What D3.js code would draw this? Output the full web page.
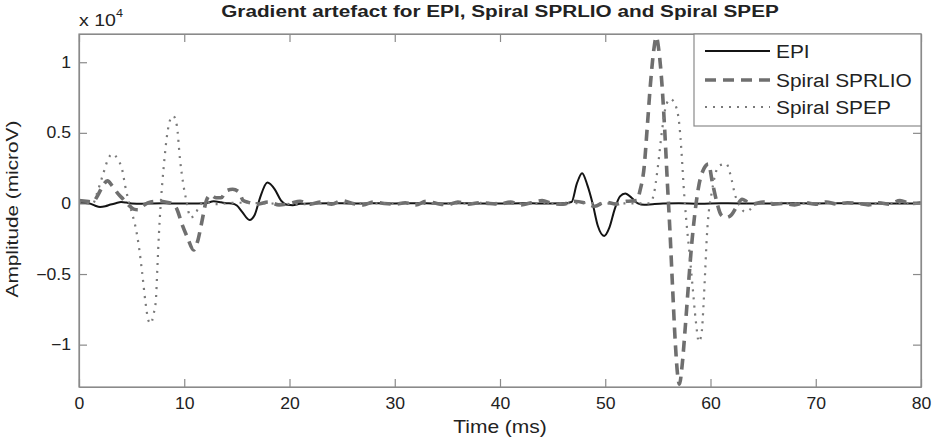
<!DOCTYPE html>
<meta charset="utf-8">
<style>
    body { margin: 0; background: #fff; }
    svg { font-family: "Liberation Sans", Arial, Helvetica, sans-serif; }
    .axis path, .axis line { stroke: #8a8a8a; stroke-width: 1.2; }
    .axis text { fill: #222; font-size: 16px; }
</style>
<body>
<script src="https://cdn.jsdelivr.net/npm/d3@7"></script>
<script>
// time (ms) / amplitude (microV)
var epiT = [0, 1, 1.5, 2, 2.5, 3, 3.5, 4, 4.5, 5, 6, 7, 8, 9, 10, 11, 12, 12.8, 13.5, 14, 14.5, 15, 15.5, 16.2, 16.7, 17.2, 17.9, 18.6, 19.2, 19.8, 20.3, 21, 22, 24, 26, 28, 30, 32, 34, 36, 38, 40, 42, 44, 46, 46.8, 47.3, 47.8, 48.3, 48.8, 49.3, 49.9, 50.4, 50.9, 51.4, 51.9, 52.5, 53.1, 53.7, 54.5, 55.5, 57, 59, 61, 63, 65, 67, 70, 73, 76, 80];
var epiV = [50, 0, -150, -250, -200, -80, 20, 100, 60, 0, -20, 0, 10, 0, -10, 0, 10, 150, 80, 20, 0, -150, -600, -1170, -800, 400, 1480, 1000, 200, -100, -120, -30, 0, 20, -10, 10, 0, 20, -10, 10, 0, -10, 10, 0, 10, 100, 1400, 2140, 1300, 0, -1600, -2300, -1700, -400, 500, 700, 400, 0, -100, -50, 0, 20, -20, 10, 0, -10, 10, 0, 10, -10, 0];

var sprT = [0, 0.7, 1.3, 1.8, 2.3, 2.7, 3.2, 3.7, 4.2, 4.7, 5.2, 5.6, 6.2, 6.8, 7.5, 8.2, 8.8, 9.3, 9.8, 10.3, 10.9, 11.3, 11.7, 12.1, 12.5, 13, 13.5, 14, 14.6, 15.2, 15.6, 16, 17, 18, 19, 20, 21, 22, 23, 24, 25, 26, 27, 28, 29, 30, 31, 32, 33, 34, 35, 36, 37, 38, 39, 40, 41, 42, 43, 44, 45, 46, 47, 48, 49, 50, 51, 52, 53, 53.3, 53.7, 54, 54.3, 54.6, 54.85, 55.1, 55.4, 55.65, 55.9, 56.15, 56.4, 56.65, 56.9, 57.05, 57.3, 57.6, 57.9, 58.2, 58.5, 58.9, 59.4, 59.8, 60.2, 60.6, 61, 61.5, 62, 62.5, 63, 63.5, 64, 65, 66, 67, 68, 69, 70, 71, 72, 73, 74, 75, 76, 77, 78, 79, 80];
var sprV = [200, 150, 100, 600, 1300, 1600, 1200, 700, 300, -100, -400, -450, -100, 100, 150, 100, 0, -400, -1500, -2400, -3300, -2600, -1200, 200, 600, 400, 400, 900, 1000, 800, 200, 100, -50, 100, -100, 0, 150, -50, 100, -50, 200, 0, -100, 100, 0, -50, 50, -100, 150, 0, -100, 100, -50, 50, 0, -50, 100, -100, 50, 200, 0, -50, 150, 50, -200, 100, -50, 150, 200, 900, 2600, 5500, 8500, 10800, 11800, 10800, 8300, 5200, 1500, -2000, -6000, -9800, -12300, -12800, -11500, -8800, -5800, -3000, -800, 1300, 2500, 2800, 1400, 100, -800, -1000, -800, -200, 300, 100, -50, 100, -50, 0, -100, 50, -50, 100, -50, 50, 0, -100, 50, -50, 200, 0, 50];

var spepT = [0, 0.8, 1.3, 1.7, 2.3, 2.8, 3.2, 3.7, 4.1, 4.4, 4.7, 5, 5.35, 5.7, 6, 6.3, 6.6, 6.8, 7.1, 7.3, 7.45, 7.6, 7.75, 8.05, 8.4, 8.7, 8.95, 9.3, 9.6, 9.9, 10.2, 10.6, 11, 11.5, 12, 13, 15, 18, 21, 24, 27, 30, 33, 36, 39, 42, 45, 48, 51, 54.2, 54.6, 55, 55.4, 55.8, 56.2, 56.7, 57.05, 57.25, 57.45, 57.7, 58, 58.3, 58.6, 58.9, 59.15, 59.35, 59.5, 59.65, 59.85, 60.1, 60.5, 60.9, 61.5, 62, 62.3, 62.8, 63.3, 63.8, 64.3, 65, 68, 71, 74, 77, 80];
var spepV = [100, 0, -50, 700, 2100, 3200, 3500, 3100, 2400, 1200, 200, -600, -1600, -3100, -4900, -6900, -8300, -8500, -7800, -6900, -4500, -2100, -200, 2600, 5000, 6000, 6200, 5500, 3100, 1400, 200, -1000, -800, -100, 100, -50, 50, 0, -50, 50, 0, 30, -30, 0, 40, -20, 0, 30, 0, 0, 600, 2600, 5200, 7000, 7400, 6900, 5500, 3600, 1200, -1200, -3500, -5900, -8300, -9800, -9200, -7000, -4700, -2400, -500, 700, 2200, 2700, 2800, 1700, 700, -200, -600, -400, 0, 50, 0, 30, -20, 0, 0];

var seriesNames = ["EPI", "Spiral SPRLIO", "Spiral SPEP"];
var xTicks = [0, 10, 20, 30, 40, 50, 60, 70, 80];
var yTicks = [-10000, -5000, 0, 5000, 10000];

var W = 932, H = 444,
    margin = {top: 34, right: 11, bottom: 57, left: 79},
    width = W - margin.left - margin.right,
    height = H - margin.top - margin.bottom;

var svg = d3.select("body").append("svg")
    .attr("width", W)
    .attr("height", H);

var g = svg.append("g")
    .attr("transform", "translate(" + margin.left + "," + margin.top + ")");

var x = d3.scaleLinear().domain([0, 80]).range([0, width]);
var y = d3.scaleLinear().domain([-13000, 12000]).range([height, 0]);

var fmtY = function(v) { return v === 0 ? "0" : d3.format("")(v / 1e4).replace("-", "\u2212"); };

g.append("clipPath").attr("id", "clip")
    .append("rect").attr("width", width).attr("height", height);

var line = d3.line()
    .x(function(d) { return x(d[0]); })
    .y(function(d) { return y(d[1]); })
    .curve(d3.curveMonotoneX);

var styles = [
    {stroke: "#141414", width: 2, dash: null},
    {stroke: "#6f6f6f", width: 3.6, dash: "11,7"},
    {stroke: "#7a7a7a", width: 2.2, dash: "2,6"}
];

var series = [d3.zip(epiT, epiV), d3.zip(sprT, sprV), d3.zip(spepT, spepV)];

var plot = g.append("g").attr("clip-path", "url(#clip)");
series.forEach(function(s, i) {
    plot.append("path")
        .datum(s)
        .attr("fill", "none")
        .attr("stroke", styles[i].stroke)
        .attr("stroke-width", styles[i].width)
        .attr("stroke-dasharray", styles[i].dash)
        .attr("d", line);
});

// axes, MATLAB style: inward ticks on all four sides
var tick = 8;
var xb = g.append("g").attr("class", "axis")
    .attr("transform", "translate(0," + height + ")")
    .call(d3.axisBottom(x).tickValues(xTicks).tickSizeInner(-tick).tickSizeOuter(0).tickPadding(11));
var xt = g.append("g").attr("class", "axis")
    .call(d3.axisTop(x).tickValues(xTicks).tickSizeInner(-tick).tickSizeOuter(0).tickFormat(""));
var yl = g.append("g").attr("class", "axis")
    .call(d3.axisLeft(y).tickValues(yTicks).tickSizeInner(-tick).tickSizeOuter(0).tickPadding(16).tickFormat(fmtY));
var yr = g.append("g").attr("class", "axis")
    .attr("transform", "translate(" + width + ",0)")
    .call(d3.axisRight(y).tickValues(yTicks).tickSizeInner(-tick).tickSizeOuter(0).tickFormat(""));

// the picture's text is a bit wide, stretch it
xb.selectAll("text").attr("transform", "scale(1.1,1)")
    .attr("x", 0);
yl.selectAll("text").attr("transform", "scale(1.1,1)")
    .attr("x", -8 / 1.1);

g.append("rect")
    .attr("width", width).attr("height", height)
    .attr("fill", "none").attr("stroke", "#8a8a8a").attr("stroke-width", 1.2);

function stretchText(parent, tx, ty, sx, rot) {
    return parent.append("text")
        .attr("transform", "translate(" + tx + "," + ty + ")" + (rot ? " rotate(" + rot + ")" : "") + " scale(" + sx + ",1)");
}

stretchText(svg, margin.left + width / 2, 17, 1.22)
    .attr("text-anchor", "middle")
    .attr("font-weight", "bold")
    .attr("font-size", 17)
    .attr("fill", "#222")
    .text("Gradient artefact for EPI, Spiral SPRLIO and Spiral SPEP");

var mult = stretchText(svg, 79, 26, 1.15).attr("font-size", 17).attr("fill", "#222");
mult.append("tspan").text("x 10");
mult.append("tspan").attr("dy", -9).attr("font-size", 11).text("4");

stretchText(svg, margin.left + width / 2, 433, 1.2)
    .attr("text-anchor", "middle")
    .attr("font-size", 17.5)
    .attr("fill", "#222")
    .text("Time (ms)");

stretchText(svg, 18, 209, 1.3, -90)
    .attr("text-anchor", "middle")
    .attr("font-size", 16)
    .attr("fill", "#222")
    .text("Amplitude (microV)");

// legend
var lg = g.append("g").attr("transform", "translate(" + (694 - margin.left) + ",0)");
lg.append("rect")
    .attr("width", width - (694 - margin.left)).attr("height", 92)
    .attr("fill", "#fff").attr("stroke", "#8a8a8a").attr("stroke-width", 1.2);
var rowY = [17, 46, 73];
seriesNames.forEach(function(name, i) {
    lg.append("line")
        .attr("x1", 11).attr("x2", 76)
        .attr("y1", rowY[i]).attr("y2", rowY[i])
        .attr("stroke", styles[i].stroke)
        .attr("stroke-width", styles[i].width)
        .attr("stroke-dasharray", styles[i].dash);
    stretchText(lg, 82, rowY[i] + 6.5, 1.16)
        .attr("font-size", 18)
        .attr("fill", "#222")
        .text(name);
});
</script>
</body>
